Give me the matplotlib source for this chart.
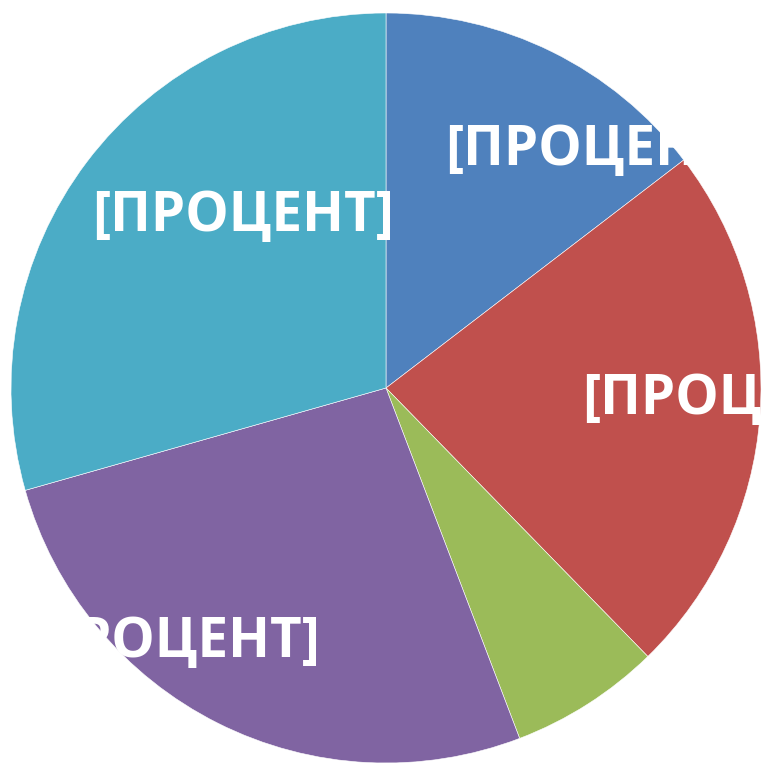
import matplotlib
matplotlib.use("Agg")
import matplotlib.pyplot as plt

categories = ["Кв. 1", "Кв. 2", "Кв. 3", "Кв. 4", "Кв. 5"]
values = [14.6, 23.1, 6.5, 26.4, 29.4]
label_text = "[ПРОЦЕНТ]"
colors = ["#4F81BD", "#C0504D", "#9BBB59", "#8064A2", "#4BACC6"]
# label centres in pixel space (x from left, y from top); None = no visible label
label_pos = [(596, 144), (733, 393), None, (169, 636), (243, 210)]

W, H = 762, 763
fig = plt.figure(figsize=(W / 100, H / 100), dpi=100)
ax = fig.add_axes([0, 0, 1, 1])

cx, cy, R = 386, H - 388, 375
ax.pie(values, colors=colors, startangle=90, counterclock=False,
       radius=R, center=(cx, cy), frame=True,
       wedgeprops=dict(edgecolor="white", linewidth=0.4))
ax.set_xlim(0, W)
ax.set_ylim(0, H)
ax.set_aspect("auto")
ax.axis("off")

target_w = 302
fs = 40
fig.canvas.draw()
t = ax.text(0, 0, label_text, fontsize=fs, fontfamily="Open Sans", fontweight="bold")
w = t.get_window_extent(fig.canvas.get_renderer()).width
t.remove()
fs = fs * target_w / w

for pos in label_pos:
    if pos is None:
        continue
    px, py = pos
    ax.text(px, H - py, label_text, fontsize=fs, fontfamily="Open Sans",
            fontweight="bold", color="white", ha="center", va="center_baseline")

fig.savefig("out.png", dpi=100)
